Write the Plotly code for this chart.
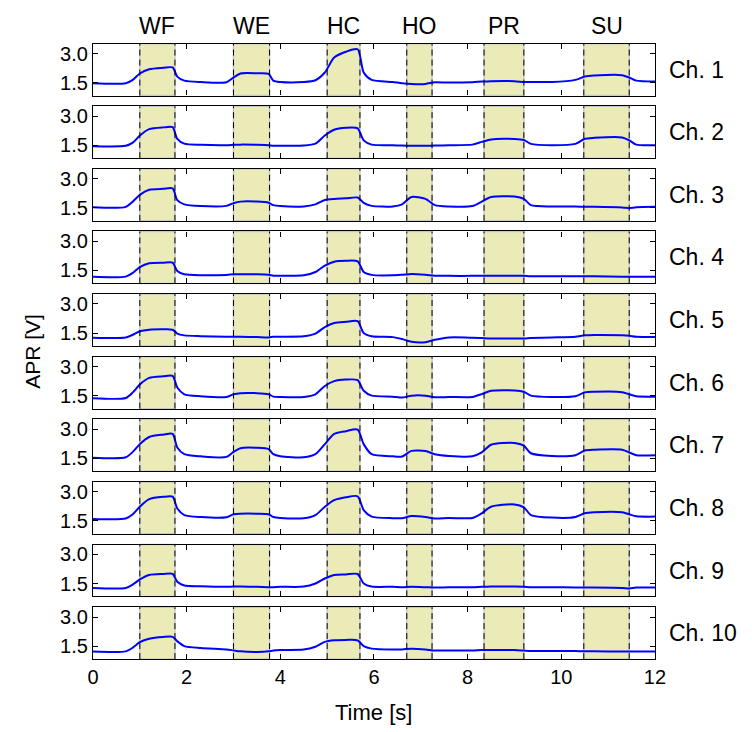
import plotly.graph_objects as go

# Sample times [s] shared by all channels
time_s = [0.0, 0.7, 0.85, 1.0, 1.2, 1.5, 1.7, 1.8, 1.95, 2.3, 2.85, 3.0, 3.15, 3.5,
          3.75, 3.85, 4.0, 4.5, 4.75, 4.95, 5.15, 5.4, 5.65, 5.78, 5.95, 6.4, 6.6,
          6.8, 7.1, 7.3, 7.6, 8.1, 8.3, 8.5, 9.0, 9.2, 9.35, 9.8, 10.3, 10.5, 10.7,
          11.3, 11.45, 11.6, 12.0]

# APR [V] per channel
ch1 = [1.47, 1.47, 1.64, 1.97, 2.19, 2.26, 2.28, 1.81, 1.60, 1.53, 1.52, 1.76, 1.97, 1.98,
       1.95, 1.60, 1.53, 1.53, 1.62, 2.02, 2.79, 3.09, 3.22, 2.02, 1.64, 1.53, 1.47,
       1.43, 1.43, 1.52, 1.50, 1.52, 1.55, 1.57, 1.57, 1.53, 1.53, 1.53, 1.64, 1.81, 1.86,
       1.88, 1.76, 1.60, 1.55]
ch2 = [1.45, 1.47, 1.63, 2.00, 2.33, 2.42, 2.43, 1.83, 1.58, 1.52, 1.50, 1.52, 1.53, 1.52,
       1.50, 1.47, 1.47, 1.48, 1.58, 2.00, 2.30, 2.40, 2.37, 1.75, 1.53, 1.50, 1.48,
       1.47, 1.47, 1.48, 1.50, 1.53, 1.67, 1.80, 1.82, 1.77, 1.57, 1.50, 1.57, 1.83, 1.88,
       1.90, 1.75, 1.53, 1.50]
ch3 = [1.53, 1.55, 1.82, 2.17, 2.43, 2.48, 2.50, 1.90, 1.68, 1.59, 1.60, 1.74, 1.82, 1.82,
       1.76, 1.64, 1.59, 1.57, 1.68, 1.90, 1.96, 1.99, 2.03, 1.76, 1.60, 1.57, 1.68,
       2.06, 1.96, 1.64, 1.57, 1.59, 1.82, 2.06, 2.08, 1.96, 1.64, 1.57, 1.57, 1.55, 1.55,
       1.52, 1.48, 1.53, 1.55]
ch4 = [1.17, 1.18, 1.37, 1.67, 1.87, 1.90, 1.90, 1.47, 1.30, 1.25, 1.27, 1.30, 1.30, 1.30,
       1.28, 1.23, 1.23, 1.25, 1.42, 1.75, 1.95, 2.00, 1.97, 1.42, 1.27, 1.25, 1.28,
       1.32, 1.28, 1.23, 1.22, 1.22, 1.23, 1.23, 1.23, 1.22, 1.20, 1.20, 1.20, 1.20, 1.20,
       1.18, 1.18, 1.18, 1.18]
ch5 = [1.26, 1.27, 1.41, 1.59, 1.67, 1.69, 1.67, 1.47, 1.38, 1.34, 1.31, 1.31, 1.31, 1.29,
       1.27, 1.31, 1.31, 1.33, 1.47, 1.81, 2.02, 2.08, 2.11, 1.50, 1.33, 1.29, 1.19,
       1.05, 1.03, 1.15, 1.27, 1.26, 1.24, 1.22, 1.22, 1.22, 1.24, 1.27, 1.31, 1.38, 1.40,
       1.38, 1.36, 1.31, 1.29]
ch6 = [1.37, 1.38, 1.67, 2.08, 2.42, 2.50, 2.52, 1.92, 1.57, 1.47, 1.43, 1.57, 1.63, 1.63,
       1.57, 1.45, 1.43, 1.43, 1.57, 2.00, 2.25, 2.33, 2.30, 1.75, 1.50, 1.45, 1.40,
       1.50, 1.50, 1.42, 1.43, 1.43, 1.58, 1.75, 1.77, 1.70, 1.50, 1.43, 1.47, 1.67, 1.70,
       1.68, 1.57, 1.47, 1.45]
ch7 = [1.53, 1.55, 1.83, 2.23, 2.60, 2.72, 2.76, 2.06, 1.71, 1.60, 1.57, 1.83, 2.02, 2.04,
       1.97, 1.71, 1.60, 1.55, 1.71, 2.23, 2.76, 2.90, 2.98, 2.23, 1.71, 1.60, 1.59,
       1.88, 1.87, 1.71, 1.62, 1.60, 1.80, 2.20, 2.29, 2.15, 1.76, 1.62, 1.66, 1.90, 1.94,
       1.94, 1.80, 1.66, 1.66]
ch8 = [1.60, 1.62, 1.84, 2.23, 2.62, 2.74, 2.75, 2.14, 1.80, 1.70, 1.69, 1.84, 1.87, 1.87,
       1.84, 1.70, 1.65, 1.64, 1.80, 2.23, 2.57, 2.72, 2.77, 2.06, 1.72, 1.64, 1.64,
       1.75, 1.70, 1.62, 1.65, 1.65, 1.89, 2.23, 2.35, 2.20, 1.80, 1.67, 1.70, 1.89, 1.94,
       1.94, 1.84, 1.74, 1.72]
ch9 = [1.27, 1.27, 1.45, 1.71, 1.94, 1.99, 2.00, 1.59, 1.40, 1.36, 1.33, 1.34, 1.34, 1.33,
       1.31, 1.31, 1.33, 1.34, 1.50, 1.76, 1.94, 1.97, 1.99, 1.50, 1.34, 1.33, 1.31,
       1.33, 1.31, 1.29, 1.31, 1.31, 1.33, 1.34, 1.34, 1.33, 1.31, 1.31, 1.29, 1.29, 1.29,
       1.27, 1.24, 1.29, 1.29]
ch10 = [1.22, 1.23, 1.42, 1.70, 1.88, 1.97, 1.98, 1.75, 1.50, 1.40, 1.33, 1.28, 1.23, 1.20,
        1.23, 1.27, 1.30, 1.32, 1.47, 1.72, 1.80, 1.82, 1.80, 1.50, 1.37, 1.32, 1.33,
        1.37, 1.33, 1.27, 1.28, 1.28, 1.30, 1.30, 1.30, 1.27, 1.25, 1.25, 1.25, 1.23, 1.23,
        1.22, 1.22, 1.22, 1.22]

channels = [ch1, ch2, ch3, ch4, ch5, ch6, ch7, ch8, ch9, ch10]
channel_names = ["Ch. %d" % (i + 1) for i in range(10)]

# Gesture intervals [s]
gesture_labels = ["WF", "WE", "HC", "HO", "PR", "SU"]
gesture_start = [1.0, 3.0, 5.0, 6.7, 8.35, 10.48]
gesture_end = [1.75, 3.77, 5.7, 7.24, 9.2, 11.45]

x_ticks = [0, 2, 4, 6, 8, 10, 12]
y_ticks = [1.5, 3.0]
y_tick_text = ["1.5", "3.0"]

W, H = 752, 732
FONT = "Liberation Sans, Arial, sans-serif"
left_px, right_px = 89, 664
top0_px, panel_h_px, pitch_px = 42.7, 52.0, 62.7

fig = go.Figure()
layout = dict(
    width=W, height=H,
    margin=dict(l=0, r=0, t=0, b=0),
    paper_bgcolor="white", plot_bgcolor="white",
    showlegend=False,
    font=dict(family=FONT, size=20, color="black"),
)
shapes = []
annotations = []

for i, vals in enumerate(channels):
    n = i + 1
    xa = "x" if n == 1 else "x%d" % n
    ya = "y" if n == 1 else "y%d" % n
    top = top0_px + i * pitch_px
    bot = top + panel_h_px
    fig.add_trace(go.Scatter(
        x=time_s, y=vals, mode="lines", xaxis=xa, yaxis=ya,
        line=dict(color="#0000ff", width=2.0, shape="spline", smoothing=0.7),
        hoverinfo="skip",
    ))
    layout["xaxis" if n == 1 else "xaxis%d" % n] = dict(
        domain=[left_px / W, right_px / W], range=[0, 12], anchor=ya,
        tickmode="array", tickvals=x_ticks, ticks="inside", ticklen=5,
        tickcolor="black", showticklabels=(n == 10),
        tickfont=dict(family=FONT, size=20),
        showgrid=False, zeroline=False, showline=True, linecolor="black",
        linewidth=1.2, mirror="ticks",
    )
    layout["yaxis" if n == 1 else "yaxis%d" % n] = dict(
        domain=[1 - bot / H, 1 - top / H], range=[0.83, 3.51], anchor=xa,
        tickmode="array", tickvals=y_ticks, ticktext=y_tick_text,
        ticks="inside", ticklen=5, tickcolor="black",
        tickfont=dict(family=FONT, size=20),
        showgrid=False, zeroline=False, showline=True, linecolor="black",
        linewidth=1.2, mirror="ticks",
    )
    for s, e in zip(gesture_start, gesture_end):
        shapes.append(dict(
            type="rect", xref=xa, yref=ya + " domain", x0=s, x1=e, y0=0, y1=1,
            fillcolor="#ebebb7", line=dict(color="#c8c8c8", width=1.5), layer="below",
        ))
        for xv in (s, e):
            shapes.append(dict(
                type="line", xref=xa, yref=ya + " domain", x0=xv, x1=xv, y0=0, y1=1,
                line=dict(color="black", width=1, dash="6px,4px"), layer="above",
            ))
    annotations.append(dict(
        text=channel_names[i], xref="paper", yref="paper",
        x=676 / W, y=1 - (top + panel_h_px / 2) / H,
        xanchor="left", yanchor="middle", showarrow=False,
        font=dict(family=FONT, size=23),
    ))

for lab, s, e in zip(gesture_labels, gesture_start, gesture_end):
    annotations.append(dict(
        text=lab, xref="x", yref="paper", x=(s + e) / 2, y=1 - 25 / H,
        xanchor="center", yanchor="middle", showarrow=False,
        font=dict(family=FONT, size=23),
    ))

annotations.append(dict(
    text="APR [V]", xref="paper", yref="paper", x=27 / W,
    y=1 - (top0_px + 9 * pitch_px + panel_h_px + top0_px) / 2 / H,
    textangle=-90, xanchor="center", yanchor="middle", showarrow=False,
    font=dict(family=FONT, size=21),
))
annotations.append(dict(
    text="Time [s]", xref="paper", yref="paper", x=(left_px + right_px) / 2 / W,
    y=1 - 712 / H, xanchor="center", yanchor="middle", showarrow=False,
    font=dict(family=FONT, size=22),
))

layout["shapes"] = shapes
layout["annotations"] = annotations
fig.update_layout(**layout)
fig.write_html("out.html")
